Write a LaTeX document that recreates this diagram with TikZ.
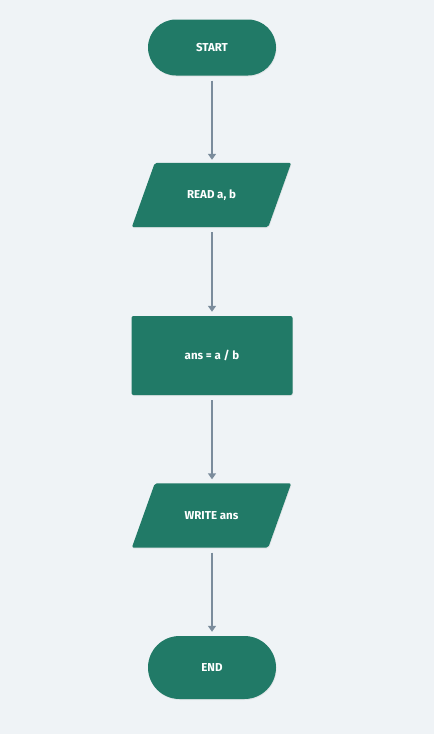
\documentclass[tikz,border=0pt]{standalone}
\usepackage{fontspec}
\setmainfont{Fira Sans}
\usetikzlibrary{shapes.misc,arrows.meta,shadows,backgrounds}
\definecolor{bgc}{HTML}{EFF3F6}
\definecolor{nodec}{HTML}{217A67}
\definecolor{arrc}{HTML}{7B8C9C}
\tikzset{
  txt/.style={text=white, inner sep=0pt, font=\fontsize{11.5}{13}\selectfont\bfseries},
  shad/.style={drop shadow={shadow xshift=0.6pt, shadow yshift=-1pt, opacity=0.12}},
  base/.style={txt, fill=nodec, draw=none, shad},
  termbox/.style={base, rounded rectangle, minimum width=128pt},
  iobox/.style={txt, draw=none, minimum width=136pt, minimum height=64pt},
  iofill/.style={fill=nodec, rounded corners=2pt, shad},
  procbox/.style={base, rectangle, rounded corners=2pt, minimum width=161pt, minimum height=79pt},
  arr/.style={draw=arrc, line width=2.4pt, -{Triangle[width=8pt,length=6pt]}}
}
\begin{document}
\begin{tikzpicture}[x=1pt,y=-1pt]
\useasboundingbox (0,0) rectangle (434,734);
\node[termbox, minimum height=56pt] (start) at (212,47.5) {START};
\node[iobox] (read) at (211.5,195) {READ a, b};
\node[procbox] (proc) at (212,355.5) {ans = a / b};
\node[iobox] (write) at (211.5,515.5) {WRITE ans};
\node[termbox, minimum height=63pt] (end) at (212,667.5) {END};
\begin{scope}[on background layer]
\fill[bgc] (0,0) rectangle (434,734);
\foreach \n in {read,write}{
  \path[iofill] ([xshift=-11.5pt]\n.south west) -- ([xshift=11.5pt]\n.north west)
    -- ([xshift=11.5pt]\n.north east) -- ([xshift=-11.5pt]\n.south east) -- cycle;
}
\end{scope}
\draw[arr, shorten <=5pt, shorten >=3pt] (start.south) -- (start.south |- read.north);
\draw[arr, shorten <=5pt, shorten >=4pt] (read.south -| start.south) -- (proc.north);
\draw[arr, shorten <=5pt, shorten >=4pt] (proc.south) -- (proc.south |- write.north);
\draw[arr, shorten <=5pt, shorten >=4pt] (write.south -| proc.south) -- (end.north);
\end{tikzpicture}
\end{document}
